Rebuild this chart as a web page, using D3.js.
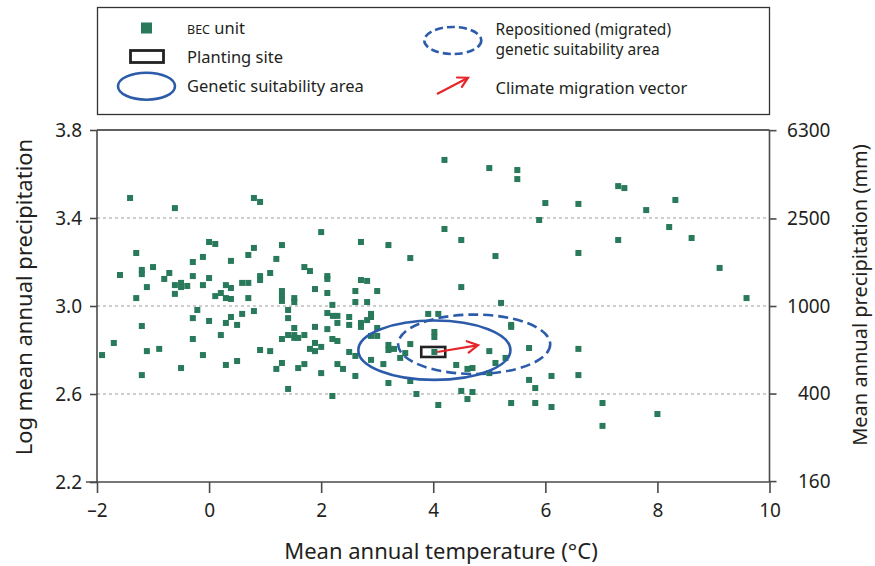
<!DOCTYPE html>
<html>
<head>
<meta charset="utf-8">
<script src="https://cdn.jsdelivr.net/npm/d3@7"></script>
<style>
  html, body { margin: 0; padding: 0; background: #fff; }
  svg { display: block; font-family: "Noto Sans", "Open Sans", sans-serif; }
</style>
</head>
<body>
<svg id="chart" width="875" height="566"></svg>
<script>
// ---------- DATA ----------
// BEC units: mean annual temperature (°C) and log10 mean annual precipitation
const becTemp = [
  -1.41,-0.61,0.80,0.91,2.00,-1.30,0.00,0.11,0.80,1.30,-0.11,-0.29,0.70,1.20,0.39,
  -1.20,-1.20,-1.00,-1.59,-0.71,-0.80,-0.29,0.00,0.91,0.91,1.09,1.70,1.80,2.11,2.11,
  -1.11,-0.61,-0.50,-0.50,-0.39,-0.11,0.30,0.39,0.59,0.70,1.89,2.11,-0.61,0.11,0.21,
  0.30,0.39,0.70,1.30,1.30,1.30,1.52,1.52,-1.30,2.20,-0.21,0.59,0.80,1.41,2.11,
  2.21,2.29,-0.29,0.39,0.00,1.41,0.30,0.50,1.52,2.29,2.11,1.89,-1.20,-1.70,-1.91,
  -1.11,-0.89,-0.29,0.21,-0.11,-0.50,-1.20,0.30,0.50,0.91,1.09,1.30,1.41,1.52,1.52,
  1.59,1.70,1.89,1.89,1.80,2.00,2.20,2.29,1.20,1.30,1.59,1.70,2.00,2.29,1.41,
  2.20,4.20,5.00,5.50,5.50,6.00,5.89,4.20,4.50,2.71,3.20,3.59,5.11,2.71,2.82,
  2.61,3.00,4.50,2.61,2.82,5.21,2.50,2.89,2.89,2.82,3.91,4.09,2.50,2.71,2.71,
  3.00,2.89,3.00,2.50,2.61,3.20,3.20,3.30,3.59,3.50,3.41,2.89,3.11,2.39,2.61,
  3.20,3.59,3.70,4.02,4.02,4.02,5.00,4.41,4.61,4.70,5.00,5.11,5.29,5.39,5.39,
  5.71,5.71,5.82,6.11,4.50,4.70,4.61,4.09,5.39,5.82,6.11,6.59,6.59,7.02,7.02,
  8.00,9.59,6.59,7.30,7.41,7.80,8.32,8.21,8.61,7.30,6.59,9.11
];
const becLogPrecip = [
  3.491,3.445,3.491,3.473,3.336,3.241,3.291,3.282,3.264,3.277,3.223,3.200,3.232,3.214,3.205,
  3.164,3.145,3.177,3.141,3.150,3.123,3.136,3.127,3.136,3.118,3.150,3.177,3.159,3.136,3.123,
  3.086,3.095,3.105,3.086,3.091,3.095,3.095,3.082,3.105,3.105,3.077,3.059,3.055,3.045,3.059,
  3.036,3.032,3.036,3.068,3.045,3.023,3.036,3.018,3.036,3.005,2.982,2.964,2.977,2.982,2.968,
  2.955,2.955,2.945,2.950,2.932,2.945,2.923,2.914,2.900,2.923,2.895,2.905,2.909,2.832,2.777,
  2.795,2.805,2.850,2.868,2.777,2.718,2.686,2.732,2.750,2.800,2.795,2.850,2.868,2.868,2.855,
  2.855,2.868,2.832,2.795,2.805,2.814,2.850,2.841,2.714,2.741,2.718,2.736,2.695,2.736,2.623,
  2.591,3.664,3.627,3.618,3.577,3.468,3.391,3.350,3.300,3.291,3.277,3.218,3.227,3.118,3.114,
  3.068,3.068,3.086,3.018,3.018,3.014,2.950,2.964,2.950,2.936,2.964,2.964,2.914,2.923,2.905,
  2.900,2.864,2.864,2.791,2.773,2.823,2.800,2.805,2.827,2.786,2.764,2.755,2.736,2.714,2.682,
  2.650,2.659,2.600,2.882,2.859,2.791,2.795,2.732,2.714,2.718,2.695,2.741,2.764,2.914,2.905,
  2.809,2.664,2.627,2.682,2.614,2.609,2.577,2.550,2.559,2.559,2.541,2.805,2.686,2.559,2.455,
  2.509,3.036,3.464,3.545,3.536,3.436,3.482,3.359,3.309,3.300,3.241,3.173
];

const plantingSite = [4.0, 2.791];          // [temp, log precip]
const suitCenter = [4.02, 2.799];           // genetic suitability area centre
const suitRadii = [1.357, 0.135];           // half-widths [temp, log precip]
const migratedCenter = [4.73, 2.826];       // repositioned area centre
const migrationVector = [[4.07, 2.791], [4.80, 2.822]];

const xTicks = [-2, 0, 2, 4, 6, 8, 10];
const yTicks = [2.2, 2.6, 3.0, 3.4, 3.8];
const yGrid = [2.6, 3.0, 3.4];
const yRightTicks = [160, 400, 1000, 2500, 6300];

const xTitle = "Mean annual temperature (°C)";
const yTitle = "Log mean annual precipitation";
const yRightTitle = "Mean annual precipitation (mm)";

// ---------- STYLE ----------
const GREEN = "#287a5b", BLUE = "#2c5ca9", RED = "#e5262b", INK = "#231f20", AXIS = "#4a4a4a";

const svg = d3.select("#chart");
const L = 97, R = 769.5, T = 130, B = 482;

const x = d3.scaleLinear().domain([-2, 10]).range([L, R]);
const y = d3.scaleLinear().domain([2.2, 3.8]).range([B, T]);
const yR = d3.scaleLog().domain([Math.pow(10, 2.2), Math.pow(10, 3.8)]).range([B, T]);

// gridlines
svg.append("g").selectAll("line").data(yGrid).join("line")
  .attr("x1", L).attr("x2", R).attr("y1", d => y(d)).attr("y2", d => y(d))
  .attr("stroke", "#bdbdbd").attr("stroke-width", 1.4).attr("stroke-dasharray", "3,3");

// frame top
svg.append("line").attr("x1", L).attr("x2", R).attr("y1", T).attr("y2", T)
  .attr("stroke", "#2a2a2a").attr("stroke-width", 1.5);

// left axis
const gL = svg.append("g").attr("transform", `translate(${L},0)`)
  .call(d3.axisLeft(y).tickValues(yTicks).tickFormat(d3.format(".1f")).tickSize(7).tickPadding(8));
// bottom axis
const fmtX = d => d < 0 ? "\u2013" + (-d) : String(d);
const gB = svg.append("g").attr("transform", `translate(0,${B})`)
  .call(d3.axisBottom(x).tickValues(xTicks).tickFormat(fmtX).tickSize(11).tickPadding(11));
// right axis
const gR = svg.append("g").attr("transform", `translate(${R},0)`)
  .call(d3.axisRight(yR).tickValues(yRightTicks).tickFormat(d3.format("d")).tickSize(7).tickPadding(6));

[gL, gB, gR].forEach(g => {
  g.select(".domain").attr("stroke", AXIS).attr("stroke-width", 1.6);
  g.selectAll(".tick line").attr("stroke", AXIS).attr("stroke-width", 1.6);
  g.selectAll(".tick text").attr("fill", INK).attr("font-size", 19)
    .attr("font-family", "Noto Sans, sans-serif");
});
gL.select(".domain").attr("d", `M0,${T}V${B}`);
gB.select(".domain").attr("d", `M${L - 11},0H${R}`);
gR.select(".domain").attr("d", `M0,${T}V${B}`);
gR.selectAll(".tick text").attr("text-anchor", "end").attr("x", 61);

// axis titles
svg.append("text").attr("x", 441).attr("y", 559).attr("text-anchor", "middle")
  .attr("font-size", 22).attr("fill", INK).text(xTitle);
svg.append("text").attr("transform", "translate(32,297) rotate(-90)").attr("text-anchor", "middle")
  .attr("font-size", 22).attr("fill", INK).text(yTitle);
svg.append("text").attr("transform", "translate(867,295) rotate(-90)").attr("text-anchor", "middle")
  .attr("font-size", 20).attr("fill", INK).text(yRightTitle);

// points
const pts = becTemp.map((t, i) => [t, becLogPrecip[i]]);
const SQ = 6;
svg.append("g").selectAll("rect").data(pts).join("rect")
  .attr("x", d => x(d[0]) - SQ / 2).attr("y", d => y(d[1]) - SQ / 2)
  .attr("width", SQ).attr("height", SQ).attr("fill", GREEN);

// ellipses
svg.append("ellipse")
  .attr("cx", x(suitCenter[0])).attr("cy", y(suitCenter[1]))
  .attr("rx", x(suitCenter[0] + suitRadii[0]) - x(suitCenter[0]))
  .attr("ry", y(suitCenter[1]) - y(suitCenter[1] + suitRadii[1]))
  .attr("fill", "none").attr("stroke", BLUE).attr("stroke-width", 2.6);
svg.append("ellipse")
  .attr("cx", x(migratedCenter[0])).attr("cy", y(migratedCenter[1]))
  .attr("rx", x(migratedCenter[0] + suitRadii[0]) - x(migratedCenter[0]))
  .attr("ry", y(migratedCenter[1]) - y(migratedCenter[1] + suitRadii[1]))
  .attr("fill", "none").attr("stroke", BLUE).attr("stroke-width", 2.6)
  .attr("stroke-dasharray", "10,5");

// planting site
svg.append("rect")
  .attr("x", x(plantingSite[0]) - 12).attr("y", y(plantingSite[1]) - 5)
  .attr("width", 24).attr("height", 10)
  .attr("fill", "none").attr("stroke", "#222").attr("stroke-width", 2.6);

// arrow helper
function arrow(g, x1, y1, x2, y2, head, w) {
  const a = Math.atan2(y2 - y1, x2 - x1);
  g.append("line").attr("x1", x1).attr("y1", y1).attr("x2", x2 - Math.cos(a) * 1).attr("y2", y2 - Math.sin(a) * 1)
    .attr("stroke", RED).attr("stroke-width", w);
  const s = 0.5;
  const p1 = [x2 - head * Math.cos(a - s), y2 - head * Math.sin(a - s)];
  const p2 = [x2 - head * Math.cos(a + s), y2 - head * Math.sin(a + s)];
  g.append("path").attr("d", `M${p1}L${x2},${y2}L${p2}`)
    .attr("fill", "none").attr("stroke", RED).attr("stroke-width", w)
    .attr("stroke-linejoin", "miter").attr("stroke-linecap", "round");
}
arrow(svg, x(migrationVector[0][0]), y(migrationVector[0][1]),
      x(migrationVector[1][0]), y(migrationVector[1][1]), 12, 2.2);

// ---------- LEGEND ----------
const lg = svg.append("g");
lg.append("rect").attr("x", 97.5).attr("y", 7.5).attr("width", 672).attr("height", 107)
  .attr("fill", "#fff").attr("stroke", "#333").attr("stroke-width", 1.3);
lg.append("rect").attr("x", 141).attr("y", 22.5).attr("width", 11).attr("height", 11).attr("fill", GREEN);
lg.append("rect").attr("x", 130.5).attr("y", 50.5).attr("width", 33).attr("height", 12)
  .attr("fill", "none").attr("stroke", "#222").attr("stroke-width", 2.8);
lg.append("ellipse").attr("cx", 146.5).attr("cy", 86.2).attr("rx", 28.5).attr("ry", 13.5)
  .attr("fill", "none").attr("stroke", BLUE).attr("stroke-width", 2.6);
lg.append("ellipse").attr("cx", 452.8).attr("cy", 40.5).attr("rx", 28.5).attr("ry", 13.5)
  .attr("fill", "none").attr("stroke", BLUE).attr("stroke-width", 2.6).attr("stroke-dasharray", "8,4");
arrow(lg, 437, 94, 468, 77.7, 11, 2.2);

const lt = (xx, yy, s, fs) => lg.append("text").attr("x", xx).attr("y", yy)
  .attr("font-size", fs || 16.5).attr("fill", INK).text(s);
const bec = lg.append("text").attr("x", 187).attr("y", 34).attr("font-size", 16.5).attr("fill", INK);
bec.append("tspan").attr("font-size", 12.5).text("BEC");
bec.append("tspan").text(" unit");
lt(187, 63, "Planting site");
lt(187, 92, "Genetic suitability area");
lt(495.5, 34.5, "Repositioned (migrated)", 15.5);
lt(495.5, 55, "genetic suitability area", 15.5);
lt(495.5, 93.5, "Climate migration vector");
</script>
</body>
</html>
